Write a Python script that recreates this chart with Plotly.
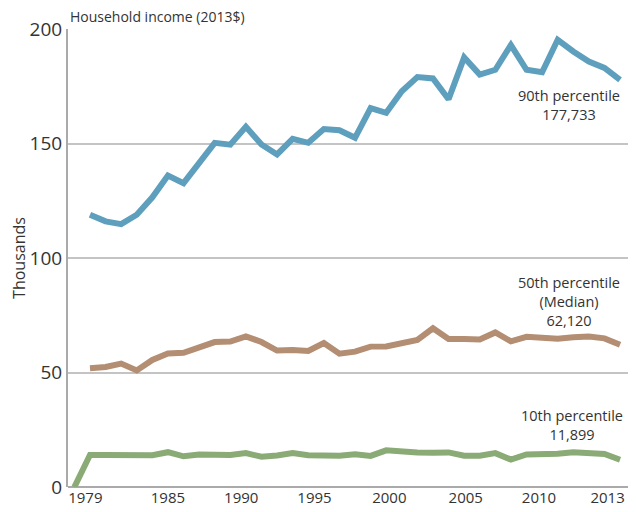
import plotly.graph_objects as go

# data, thousands of 2013 dollars
years = list(range(1978, 2014))

p90 = [None, 118.9, 116.0, 114.8, 118.9, 126.5, 136.0, 132.7, 141.0, 150.3, 149.5,
       157.3, 149.6, 145.2, 152.0, 150.3, 156.3, 155.8, 152.5, 165.5, 163.4,
       172.8, 179.0, 178.4, 169.3, 187.6, 180.1, 182.2, 193.0, 182.2, 181.1,
       195.3, 190.2, 185.8, 183.0, 177.733]

p50 = [None, 51.9, 52.4, 53.9, 50.9, 55.5, 58.3, 58.6, 61.3, 63.3, 63.5,
       65.8, 63.3, 59.6, 59.8, 59.4, 62.9, 58.2, 59.1, 61.3, 61.4,
       62.7, 64.2, 69.3, 64.6, 64.6, 64.4, 67.5, 63.6, 65.6, 65.3,
       64.7, 65.4, 65.7, 64.9, 62.12]

p10 = [0, 14.0, 14.0, 13.9, 14.2, 13.9, 15.2, 13.4, 14.2, 14.0, 14.0,
       14.8, 13.2, 13.8, 14.8, 13.9, 13.7, 13.7, 14.3, 13.6, 16.0,
       15.4, 15.1, 15.0, 15.1, 13.7, 13.7, 14.8, 12.0, 14.2, 14.2,
       14.5, 15.2, 14.5, 14.4, 11.899]

tick_labels = ["1979", "1985", "1990", "1995", "2000", "2005", "2010", "2013"]
# labels in the original sit a bit left of the matching data year
tick_pos = [1978.7, 1984.0, 1988.7, 1993.4, 1998.2, 2003.1, 2007.8, 2012.2]

labels = ["90th percentile<br>177,733", "50th percentile<br>(Median)<br>62,120",
          "10th percentile<br>11,899"]

colors = ["#5e9fbe", "#b38e73", "#8aab76"]
FONT = "Open Sans"

fig = go.Figure()
for vals, c in zip([p90, p50, p10], colors):
    fig.add_trace(go.Scatter(x=years, y=vals, mode="lines",
                             line=dict(color=c, width=6), connectgaps=False,
                             hoverinfo="skip"))

ann_pos = [(2009.7, 166.8), (2009.7, 80.8), (2009.9, 27.1)]
for txt, (ax, ay) in zip(labels, ann_pos):
    fig.add_annotation(x=ax, y=ay, text=txt, showarrow=False,
                       font=dict(size=14.5, color="#333333"), align="center")

fig.add_annotation(x=0, y=1, xref="paper", yref="paper", xanchor="left", yanchor="bottom",
                   text="Household income (2013$)", showarrow=False, yshift=1,
                   font=dict(size=14, color="#333333"))

# page body has an 8px default margin, so the figure is 8px smaller
fig.update_layout(
    width=628, height=504,
    margin=dict(l=60, r=8, t=21, b=25, autoexpand=False),
    plot_bgcolor="white", paper_bgcolor="white",
    showlegend=False,
    font=dict(family=FONT, color="#333333"),
    xaxis=dict(range=[1977.59, 2013.51], tickvals=tick_pos, ticktext=tick_labels,
               showgrid=False, zeroline=False, showline=False, ticks="",
               tickfont=dict(size=15)),
    yaxis=dict(range=[0, 200], tickvals=[0, 50, 100, 150, 200],
               showgrid=True, gridcolor="#c4c4c4", gridwidth=1.5,
               zeroline=True, zerolinecolor="#aaaaaa", zerolinewidth=2,
               showline=True, linecolor="#aaaaaa", linewidth=2,
               ticks="", tickfont=dict(size=19), automargin=False,
               title=dict(text="Thousands", font=dict(size=16), standoff=4)),
)

fig.write_html("out.html")
